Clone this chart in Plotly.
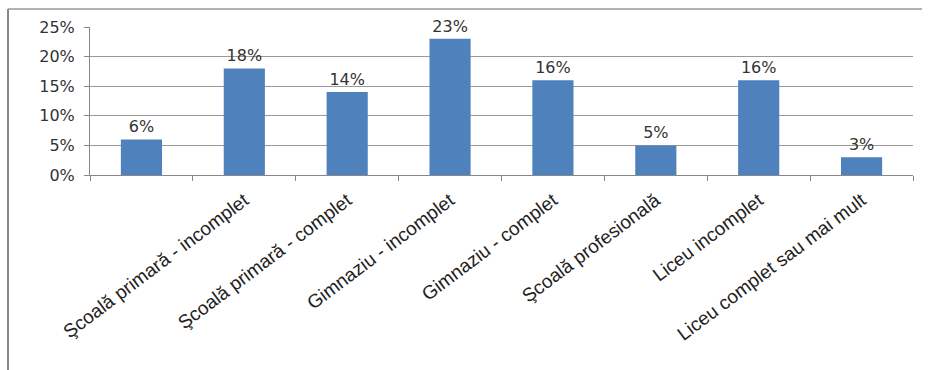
import plotly.graph_objects as go

categories = [" ", "Şcoală primară - incomplet", "Şcoală primară - complet",
              "Gimnaziu - incomplet", "Gimnaziu - complet", "Şcoală profesională",
              "Liceu incomplet", "Liceu complet sau mai mult"]
values = [6, 18, 14, 23, 16, 5, 16, 3]
labels = [f"{v}%" for v in values]
y_ticks = [0, 5, 10, 15, 20, 25]
y_tick_text = [f"{t}%" for t in y_ticks]

L, R, T, B = 90, 17, 27, 195
W, H = 930, 370
pw, ph = W - L - R, H - T - B

fig = go.Figure(go.Bar(
    x=categories, y=values, text=labels, textposition="outside",
    textfont=dict(family="DejaVu Sans", size=16, color="#333333"),
    marker=dict(color="#4F81BD", line=dict(width=0)),
    cliponaxis=False,
))

fig.update_layout(
    width=W, height=H,
    margin=dict(l=L, r=R, t=T, b=B),
    paper_bgcolor="white", plot_bgcolor="white",
    bargap=0.6, showlegend=False,
    font=dict(family="Liberation Sans, Arial", color="#333333"),
    xaxis=dict(
        type="category", tickson="boundaries", ticks="outside", ticklen=5,
        tickcolor="#888888", showline=True, linecolor="#888888", linewidth=1,
        tickangle=-37, tickfont=dict(family="Liberation Sans", size=19, color="#222222"),
        showgrid=False, ticklabelstandoff=6,
    ),
    yaxis=dict(
        range=[0, 25], tickmode="array", tickvals=y_ticks, ticktext=y_tick_text,
        ticks="outside", ticklen=5, tickcolor="#888888",
        showline=True, linecolor="#888888", linewidth=1,
        gridcolor="#999999", gridwidth=1,
        tickfont=dict(family="DejaVu Sans", size=16, color="#333333"),
        zeroline=False, ticklabelstandoff=6,
    ),
    shapes=[
        dict(type="line", xref="paper", yref="paper",
             x0=(8 - L) / pw, x1=(922 - L) / pw,
             y0=(H - B - 9) / ph, y1=(H - B - 9) / ph,
             line=dict(color="#999999", width=1.5)),
        dict(type="line", xref="paper", yref="paper",
             x0=(8 - L) / pw, x1=(8 - L) / pw,
             y0=(H - B - 9) / ph, y1=(H - B - 370) / ph,
             line=dict(color="#888888", width=2)),
    ],
)

fig.write_html("out.html")
